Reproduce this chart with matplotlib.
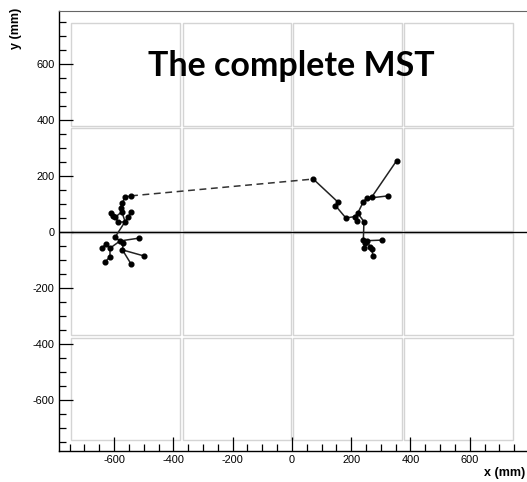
import matplotlib
matplotlib.use("Agg")
import matplotlib.pyplot as plt
from matplotlib.patches import Rectangle
from matplotlib.ticker import MultipleLocator

plt.rcParams["axes.unicode_minus"] = False

# ---- data ----
left_x = [-543, -563, -574, -577, -574, -611, -605, -597, -544, -552, -586, -563,
          -597, -580, -569, -516, -628, -642, -614, -572, -498, -543, -614, -631]
left_y = [129, 124, 102, 85, 72, 67, 58, 52, 71, 55, 37, 37,
          -19, -32, -40, -22, -43, -58, -58, -64, -86, -114, -88, -108]
left_edges = [(0, 1), (1, 2), (2, 3), (3, 4), (4, 7), (7, 6), (6, 5), (7, 10),
              (10, 11), (4, 11), (8, 9), (9, 11), (11, 12), (12, 13), (13, 15),
              (13, 14), (14, 19), (19, 20), (19, 21), (13, 18), (18, 16),
              (16, 17), (18, 22), (22, 23)]

right_x = [72, 154, 147, 182, 212, 222, 218, 243, 241, 252, 269, 353, 325,
           241, 246, 254, 305, 263, 269, 243, 274]
right_y = [189, 108, 94, 50, 55, 67, 40, 37, 108, 120, 124, 254, 129,
           -29, -40, -31, -29, -52, -61, -58, -86]
right_edges = [(0, 1), (1, 2), (2, 3), (3, 4), (4, 5), (5, 8), (8, 9), (9, 10),
               (10, 11), (9, 12), (4, 6), (5, 7), (7, 13), (13, 14), (13, 15),
               (15, 16), (15, 17), (17, 18), (18, 20), (14, 19)]

# dashed link between the two clusters: (left index, right index)
bridge = (0, 0)

module_centers = [-561, -186, 187, 562]
module_size = 366

xticks_major = [-600, -400, -200, 0, 200, 400, 600]
yticks_major = [-600, -400, -200, 0, 200, 400, 600]

# ---- figure ----
W, H = 527, 482
fig = plt.figure(figsize=(W / 100, H / 100), dpi=100)
ax = fig.add_axes([59 / W, 31 / H, (529 - 59) / W, (451 - 11) / H])
ax.set_xlim(-786, 800)
ax.set_ylim(-782, 789)

for cx in module_centers:
    for cy in module_centers:
        ax.add_patch(Rectangle((cx - module_size / 2, cy - module_size / 2),
                               module_size, module_size, fill=False,
                               edgecolor="#d4d4d4", lw=1.0, zorder=1))

ax.axhline(0, color="black", lw=1.0, zorder=2)

ax.plot([left_x[bridge[0]], right_x[bridge[1]]],
        [left_y[bridge[0]], right_y[bridge[1]]],
        color="#333333", lw=1.1, dashes=(4.5, 3), zorder=3)

for xs, ys, edges in [(left_x, left_y, left_edges), (right_x, right_y, right_edges)]:
    for i, j in edges:
        ax.plot([xs[i], xs[j]], [ys[i], ys[j]], color="#222222", lw=1.1, zorder=3)
    ax.plot(xs, ys, "o", color="black", ms=3.4, zorder=4)

ax.set_xticks(xticks_major)
ax.set_yticks(yticks_major)
ax.xaxis.set_minor_locator(MultipleLocator(50))
ax.yaxis.set_minor_locator(MultipleLocator(50))
ax.tick_params(which="major", direction="in", length=10, width=0.9,
               labelsize=7.9, pad=3, top=False, right=False)
ax.tick_params(which="minor", direction="in", length=5.2, width=0.9,
               top=False, right=False)
for lab in ax.get_xticklabels() + ax.get_yticklabels():
    lab.set_fontfamily("Liberation Sans")

ax.spines["right"].set_visible(False)
ax.spines["top"].set_color("#666666")
ax.spines["left"].set_linewidth(1.0)
ax.spines["bottom"].set_linewidth(1.0)

fig.text(291 / W, 1 - 76.5 / H, "The complete MST", ha="center", va="baseline",
         fontsize=24.5, fontweight="bold", family="Lato")
fig.text(16 / W, 1 - 8 / H, "y (mm)", rotation=90, ha="center", va="top",
         fontsize=9, fontweight="bold", family="Liberation Sans")
fig.text(525 / W, 1 - 473 / H, "x (mm)", ha="right", va="center",
         fontsize=9, fontweight="bold", family="Liberation Sans")

fig.savefig("out.png", dpi=100)
